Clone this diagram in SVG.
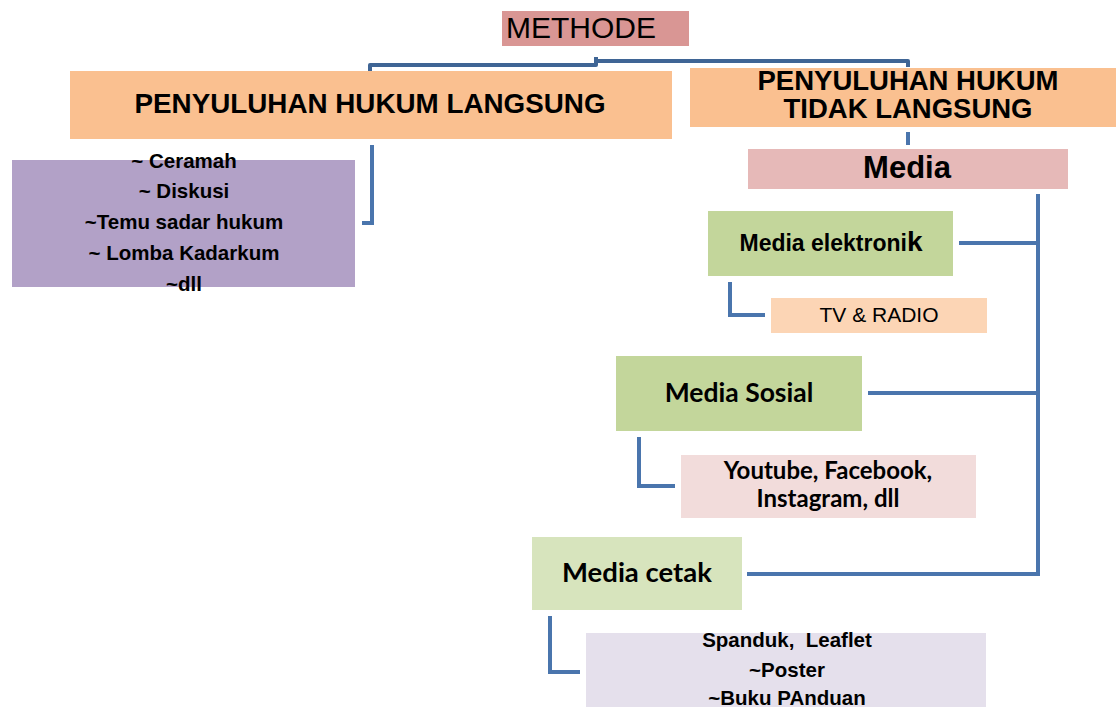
<svg xmlns="http://www.w3.org/2000/svg" width="1116" height="707" viewBox="0 0 1116 707">
<style>
.b{font-family:"Liberation Sans",Arial,sans-serif;font-weight:bold;fill:#000;text-anchor:middle}
.r{font-family:"Liberation Sans",Arial,sans-serif;fill:#000;text-anchor:middle}
.c{font-family:Lato,"Open Sans",sans-serif;font-weight:bold;fill:#000;text-anchor:middle}
.ln{fill:none;stroke:#4A75AD;stroke-width:4;stroke-linejoin:miter}
.top{fill:none;stroke:#3F6595;stroke-width:4;stroke-linejoin:round}
</style>
<rect width="1116" height="707" fill="#fff"/>
<g id="connectors">
<polyline class="top" points="370,71 370,65 596,65 596,57"/>
<polyline class="top" points="596,61 908,61 908,67"/>
<line class="ln" x1="908" y1="132" x2="908" y2="145"/>
<polyline class="ln" points="372,145 372,223 362,223"/>
<polyline class="ln" points="1038,194 1038,574 747,574"/>
<line class="ln" x1="959" y1="243" x2="1038" y2="243"/>
<line class="ln" x1="868" y1="393" x2="1038" y2="393"/>
<polyline class="ln" points="730,282 730,315 765,315"/>
<polyline class="ln" points="639,437 639,486 675,486"/>
<polyline class="ln" points="550,616 550,672 580,672"/>
</g>
<g id="methode">
<rect x="502" y="11" width="187" height="35" fill="#D99694"/>
<text class="r" x="581" y="38" font-size="30">METHODE</text>
</g>
<g id="langsung">
<rect x="70" y="71" width="602" height="68" fill="#FAC090"/>
<text class="b" x="370" y="113" font-size="27.8">PENYULUHAN HUKUM LANGSUNG</text>
</g>
<g id="langsung-list">
<rect x="12" y="160" width="343" height="127" fill="#B2A1C7"/>
<text class="b" font-size="20.5"><tspan x="184" y="168">~ Ceramah</tspan><tspan x="184" y="198">~ Diskusi</tspan><tspan x="184" y="229">~Temu sadar hukum</tspan><tspan x="184" y="260">~ Lomba Kadarkum</tspan><tspan x="184" y="291">~dll</tspan></text>
</g>
<g id="tidak-langsung">
<rect x="690" y="68" width="426" height="59" fill="#FAC090"/>
<text class="b" font-size="27.5"><tspan x="908" y="90">PENYULUHAN HUKUM</tspan><tspan x="908" y="118">TIDAK LANGSUNG</tspan></text>
</g>
<g id="media">
<rect x="748" y="149" width="320" height="40" fill="#E6B9B8"/>
<text class="b" x="907" y="178" font-size="31">Media</text>
</g>
<g id="media-elektronik">
<rect x="708" y="211" width="245" height="65" fill="#C3D69B"/>
<text class="b" x="831" y="251" font-size="23">Media elektroni<tspan font-size="28">k</tspan></text>
</g>
<g id="tv-radio">
<rect x="771" y="298" width="216" height="35" fill="#FCD5B5"/>
<text class="r" x="879" y="322" font-size="21">TV &amp; RADIO</text>
</g>
<g id="media-sosial">
<rect x="616" y="356" width="246" height="75" fill="#C3D69B"/>
<text class="c" x="739" y="402" font-size="26.5">Media Sosial</text>
</g>
<g id="sosial-list">
<rect x="681" y="455" width="295" height="63" fill="#F2DCDB"/>
<text class="c" font-size="24"><tspan x="828" y="479">Youtube, Facebook,</tspan><tspan x="828" y="507">Instagram, dll</tspan></text>
</g>
<g id="media-cetak">
<rect x="532" y="537" width="210" height="73" fill="#D7E4BD"/>
<text class="c" x="637" y="582" font-size="27.5">Media cetak</text>
</g>
<g id="cetak-list">
<rect x="586" y="633" width="400" height="74" fill="#E5E0EC"/>
<text class="b" font-size="20.5" xml:space="preserve"><tspan x="787" y="647">Spanduk,  Leaflet</tspan><tspan x="787" y="677">~Poster</tspan><tspan x="787" y="705">~Buku PAnduan</tspan></text>
</g>
</svg>
